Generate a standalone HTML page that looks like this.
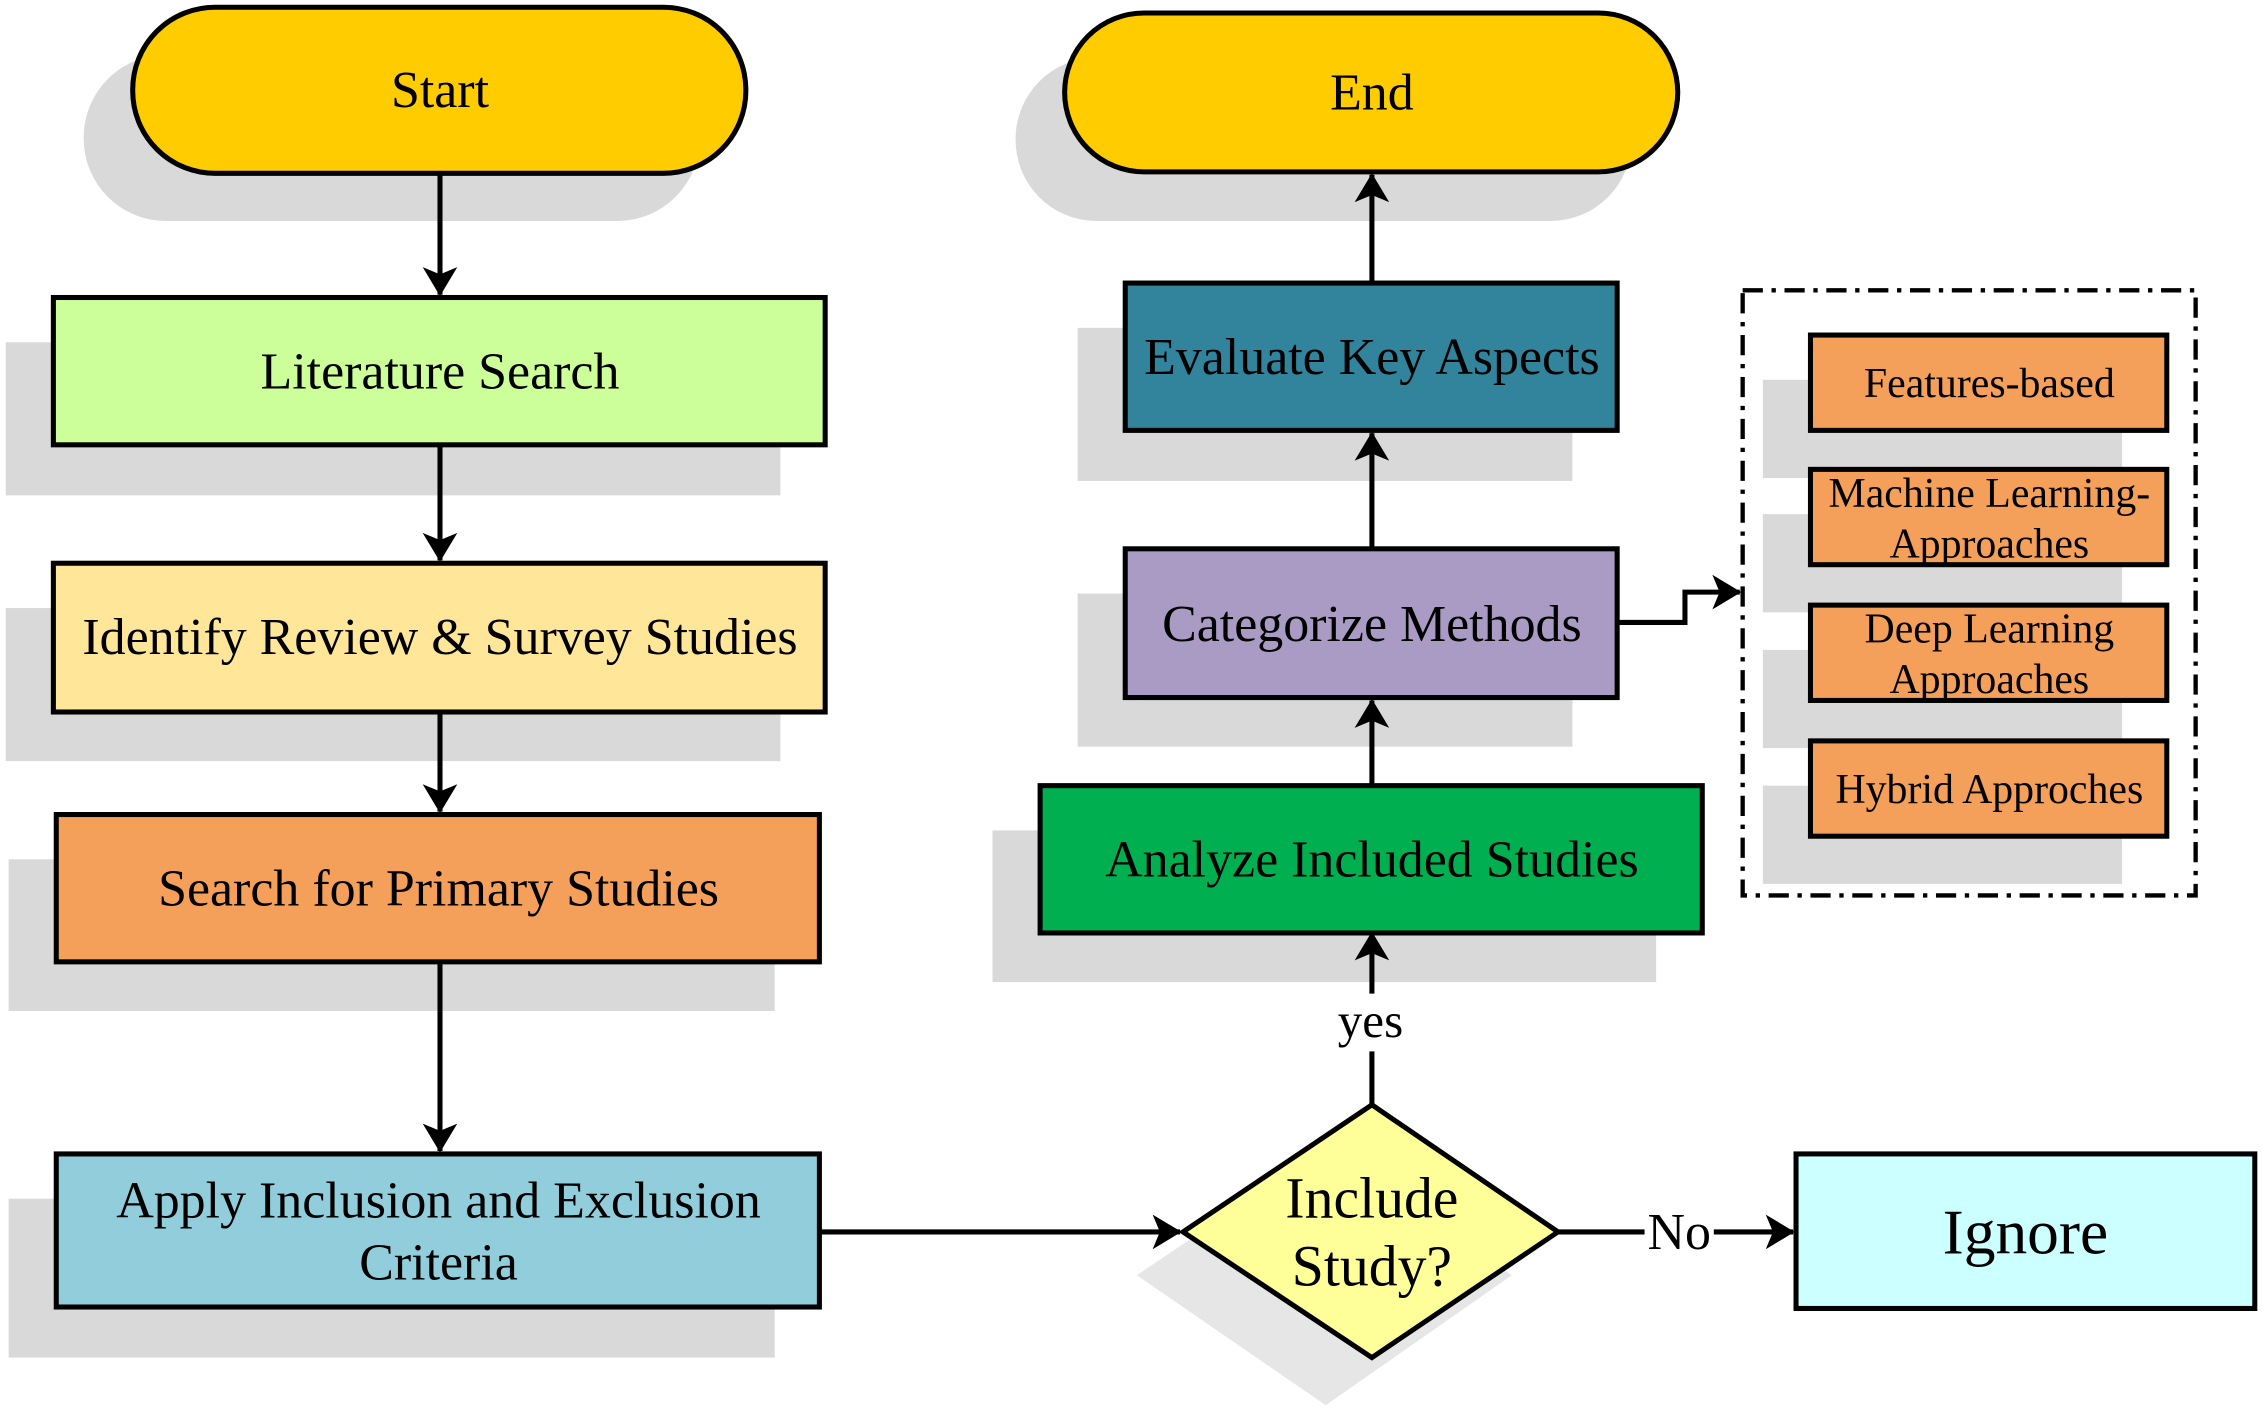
<!DOCTYPE html>
<html><head><meta charset="utf-8"><style>html,body{margin:0;padding:0;background:#fff}svg{display:block}</style></head>
<body>
<svg width="2262" height="1411" viewBox="0 0 1568 977" preserveAspectRatio="none" xmlns="http://www.w3.org/2000/svg" font-family="Liberation Serif, serif">
<defs>
<marker id="b" viewBox="0 0 20 24" markerWidth="20" markerHeight="24" refX="19" refY="12" orient="auto" markerUnits="userSpaceOnUse"><path d="M0,0 L20,12 L0,24 L5,12 Z" fill="#000"/></marker></defs>
<g fill="#d9d9d9">
<rect x="58" y="38" width="427" height="115" rx="57"/>
<rect x="4" y="237" width="537" height="106"/>
<rect x="4" y="421" width="537" height="106"/>
<rect x="6" y="595" width="531" height="105"/>
<rect x="6" y="830" width="531" height="110"/>
<rect x="704" y="40" width="427" height="113" rx="56"/>
<rect x="747" y="227" width="343" height="106"/>
<rect x="747" y="411" width="343" height="106"/>
<rect x="688" y="575" width="460" height="105"/>
<rect x="1222" y="263" width="249" height="68"/>
<rect x="1222" y="356" width="249" height="68"/>
<rect x="1222" y="450" width="249" height="68"/>
<rect x="1222" y="544" width="249" height="68"/>
</g>
<polygon points="788,883 919,795 1048,883 919,973" fill="#e6e6e6"/>
<g stroke="#000" stroke-width="3.5" fill="none">
<line x1="305" y1="120" x2="305" y2="204" marker-end="url(#b)"/>
<line x1="305" y1="308" x2="305" y2="388" marker-end="url(#b)"/>
<line x1="305" y1="493" x2="305" y2="562" marker-end="url(#b)"/>
<line x1="305" y1="666" x2="305" y2="797" marker-end="url(#b)"/>
<line x1="568" y1="853" x2="818" y2="853" marker-end="url(#b)"/>
<line x1="1080" y1="853" x2="1243" y2="853" marker-end="url(#b)"/>
<line x1="951" y1="765" x2="951" y2="646" marker-end="url(#b)"/>
<line x1="951" y1="544" x2="951" y2="485" marker-end="url(#b)"/>
<line x1="951" y1="380" x2="951" y2="300" marker-end="url(#b)"/>
<line x1="951" y1="196" x2="951" y2="121" marker-end="url(#b)"/>
<polyline points="1121,431 1168,431 1168,410 1206,410" marker-end="url(#b)"/>
</g>
<rect x="920" y="688" width="62" height="40" fill="#fff"/>
<text x="950" y="718" font-size="34" text-anchor="middle">yes</text>
<rect x="1140" y="836" width="48" height="34" fill="#fff"/>
<text x="1164" y="865" font-size="36" text-anchor="middle">No</text>
<g stroke="#000" stroke-width="3.5">
<rect x="92" y="5" width="425" height="115" rx="57" fill="#ffcc00"/>
<rect x="37" y="206" width="535" height="102" fill="#ccff99"/>
<rect x="37" y="390" width="535" height="103" fill="#ffe699"/>
<rect x="39" y="564" width="529" height="102" fill="#f4a05a"/>
<rect x="39" y="799" width="529" height="106" fill="#92cddc"/>
<polygon points="820,853 951,765 1080,853 951,940" fill="#ffff99"/>
<rect x="1245" y="799" width="318" height="107" fill="#ccffff"/>
<rect x="721" y="544" width="459" height="102" fill="#00b050"/>
<rect x="780" y="380" width="341" height="103" fill="#a99bc3"/>
<rect x="780" y="196" width="341" height="102" fill="#31849b"/>
<rect x="738" y="9" width="425" height="110" rx="55" fill="#ffcc00"/>
<rect x="1255" y="232" width="247" height="66" fill="#f4a05a"/>
<rect x="1255" y="325" width="247" height="66" fill="#f4a05a"/>
<rect x="1255" y="419" width="247" height="66" fill="#f4a05a"/>
<rect x="1255" y="513" width="247" height="66" fill="#f4a05a"/>
</g>
<rect x="1208" y="201" width="314" height="419" fill="none" stroke="#000" stroke-width="3" stroke-dasharray="14,6,3,6"/>
<g font-size="36" text-anchor="middle" fill="#000">
<text x="305" y="74">Start</text>
<text x="305" y="269">Literature Search</text>
<text x="305" y="453">Identify Review &amp; Survey Studies</text>
<text x="304" y="627">Search for Primary Studies</text>
<text x="304" y="843">Apply Inclusion and Exclusion</text>
<text x="304" y="886">Criteria</text>
<text x="951" y="843" font-size="40">Include</text>
<text x="951" y="890" font-size="40">Study?</text>
<text x="1404" y="868" font-size="44">Ignore</text>
<text x="951" y="607">Analyze Included Studies</text>
<text x="951" y="444">Categorize Methods</text>
<text x="951" y="259">Evaluate Key Aspects</text>
<text x="951" y="76">End</text>
</g>
<g font-size="29" text-anchor="middle" fill="#000">
<text x="1379" y="275">Features-based</text>
<text x="1379" y="351">Machine Learning-</text>
<text x="1379" y="386">Approaches</text>
<text x="1379" y="445">Deep Learning</text>
<text x="1379" y="480">Approaches</text>
<text x="1379" y="556">Hybrid Approches</text>
</g>
</svg>
</body></html>
